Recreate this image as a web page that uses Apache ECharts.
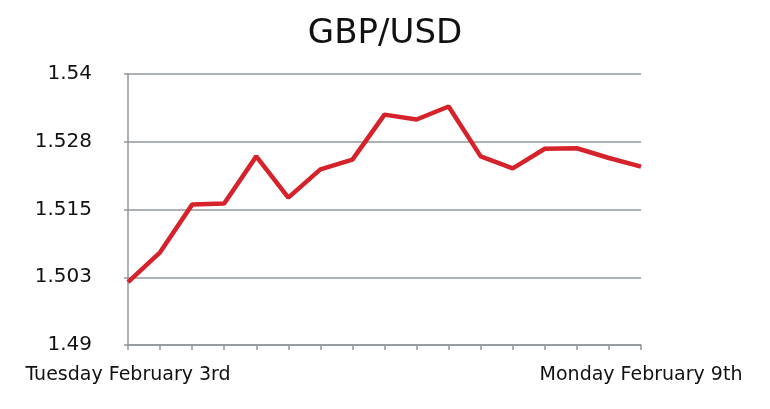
<!DOCTYPE html>
<html>
<head>
<meta charset="utf-8">
<script src="https://cdn.jsdelivr.net/npm/echarts@6/dist/echarts.min.js"></script>
<style>
  html, body { margin: 0; padding: 0; background: #fff; }
  #J_line { width: 770px; height: 409px; }
</style>
</head>
<body>
<div id="J_line"></div>
<script>
var categories = ['Tuesday February 3rd', 'p2', 'p3', 'p4', 'p5', 'p6', 'p7', 'p8', 'p9', 'p10', 'p11', 'p12', 'p13', 'p14', 'p15', 'p16', 'Monday February 9th'];
var rateData = [1.5016, 1.5071, 1.5159, 1.5161, 1.5248, 1.5172, 1.5224, 1.5242, 1.5325, 1.5316, 1.5340, 1.5248, 1.5226, 1.5262, 1.5263, 1.5245, 1.5229];
var yTickLabels = ['1.49', '1.503', '1.515', '1.528', '1.54'];

var myChart = echarts.init(document.getElementById('J_line'));

var option = {
    animation: false,
    title: {
        text: 'GBP/USD',
        left: 'center',
        top: 12,
        textStyle: {
            fontFamily: 'DejaVu Sans',
            fontWeight: 'normal',
            fontSize: 34,
            color: '#111'
        }
    },
    grid: {
        top: 74,
        bottom: 64,
        left: 128,
        right: 129
    },
    xAxis: {
        type: 'category',
        boundaryGap: false,
        data: categories,
        axisLabel: {
            interval: function (index) {
                return index === 0 || index === categories.length - 1;
            },
            margin: 21,
            color: '#111',
            fontFamily: 'DejaVu Sans',
            fontSize: 19
        },
        axisLine: {
            lineStyle: { color: '#8f979b', width: 1.5 }
        },
        axisTick: {
            show: true,
            interval: 0,
            length: 5,
            lineStyle: { color: '#8f979b', width: 1.5 }
        },
        splitLine: { show: false }
    },
    yAxis: {
        type: 'value',
        min: 1.49,
        max: 1.54,
        interval: 0.0125,
        axisLabel: {
            margin: 36,
            color: '#111',
            fontFamily: 'DejaVu Sans',
            fontSize: 20,
            formatter: function (value, index) {
                return yTickLabels[index];
            }
        },
        axisLine: {
            show: true,
            lineStyle: { color: '#8f979b', width: 1.5 }
        },
        axisTick: {
            show: true,
            length: 4,
            lineStyle: { color: '#8f979b', width: 1.5 }
        },
        splitLine: {
            show: true,
            lineStyle: { color: '#8f979b', width: 1.5 }
        }
    },
    series: [{
        type: 'line',
        name: 'GBP/USD',
        data: rateData,
        symbol: 'none',
        lineStyle: { color: '#d6222a', width: 4.5 }
    }]
};

myChart.setOption(option);
</script>
</body>
</html>
